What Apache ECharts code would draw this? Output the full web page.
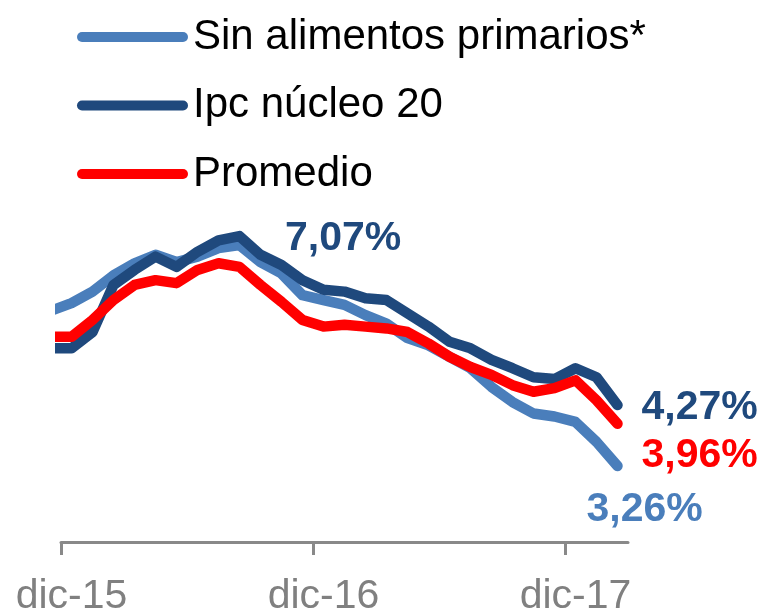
<!DOCTYPE html>
<html>
<head>
<meta charset="utf-8">
<script src="https://cdn.jsdelivr.net/npm/echarts@6/dist/echarts.min.js"></script>
<style>
html, body { margin: 0; padding: 0; background: #fff; }
#main { width: 768px; height: 609px; }
</style>
</head>
<body>
<div id="main"></div>
<script>
// monthly series, first month (nov-15) only shows as the clipped start of the lines
var months = ['nov-15', 'dic-15', 'ene-16', 'feb-16', 'mar-16', 'abr-16', 'may-16', 'jun-16',
    'jul-16', 'ago-16', 'sep-16', 'oct-16', 'nov-16', 'dic-16', 'ene-17', 'feb-17', 'mar-17',
    'abr-17', 'may-17', 'jun-17', 'jul-17', 'ago-17', 'sep-17', 'oct-17', 'nov-17', 'dic-17',
    'ene-18', 'feb-18'];
var tickLabels = ['dic-15', 'dic-16', 'dic-17'];

var sinAlimentos = [5.83, 5.96, 6.15, 6.42, 6.62, 6.76, 6.64, 6.73, 6.87, 6.92, 6.64, 6.45, 6.09, 6.01,
    5.93, 5.76, 5.62, 5.38, 5.26, 5.07, 4.88, 4.57, 4.32, 4.13, 4.08, 3.99, 3.66, 3.26];
var ipcNucleo = [5.21, 5.21, 5.48, 6.26, 6.51, 6.73, 6.56, 6.81, 7.00, 7.07, 6.76, 6.59, 6.34, 6.18,
    6.15, 6.04, 6.01, 5.79, 5.57, 5.32, 5.21, 5.02, 4.88, 4.73, 4.70, 4.88, 4.73, 4.27];
var promedio = [5.40, 5.40, 5.68, 6.01, 6.26, 6.34, 6.29, 6.51, 6.62, 6.56, 6.26, 5.98, 5.68, 5.57,
    5.60, 5.57, 5.54, 5.48, 5.29, 5.07, 4.90, 4.77, 4.60, 4.49, 4.55, 4.68, 4.35, 3.96];

var names = ['Sin alimentos primarios*', 'Ipc núcleo 20', 'Promedio'];
var colors = ['#4A7EBB', '#1F497D', '#FF0000'];

function pct(v) {
    return v.toFixed(2).replace('.', ',') + '%';
}

function pairs(values) {
    return values.map(function (v, i) { return [i, v]; });
}

var labelIdx = tickLabels.map(function (m) { return months.indexOf(m); });
var tickIdx = labelIdx.map(function (i) { return i - 0.5; });

var font = 'Liberation Sans, Arial, sans-serif';

function endLabel(color, dist, off) {
    return {
        show: true,
        formatter: function (p) { return pct(p.value[1]); },
        color: color,
        fontFamily: font,
        fontSize: 41,
        fontWeight: 'bold',
        distance: dist,
        offset: off
    };
}

function lineSeries(idx, values, dist, off) {
    return {
        name: names[idx],
        type: 'line',
        data: pairs(values),
        symbol: 'none',
        color: colors[idx],
        lineStyle: { width: 10.5, color: colors[idx], cap: 'round', join: 'round' },
        endLabel: endLabel(colors[idx], dist, off),
        animation: false
    };
}

var chart = echarts.init(document.getElementById('main'));

var s0 = lineSeries(0, sinAlimentos, 24, [-55, 44]);
var s1 = lineSeries(1, ipcNucleo, 24, [0, 3]);
var s2 = lineSeries(2, promedio, 24, [0, 32]);

s1.markPoint = {
    symbol: 'circle',
    symbolSize: 1,
    itemStyle: { color: 'rgba(0,0,0,0)' },
    data: [{ type: 'max', valueDim: 'y' }],
    label: {
        show: true,
        position: 'right',
        distance: 45,
        offset: [0, 3],
        formatter: function (p) { return pct(p.value); },
        color: colors[1],
        fontFamily: font,
        fontSize: 41,
        fontWeight: 'bold'
    },
    animation: false
};

var option = {
    animation: false,
    backgroundColor: '#fff',
    legend: {
        orient: 'vertical',
        left: 72,
        top: 9,
        itemWidth: 111,
        itemHeight: 10,
        itemGap: 22.5,
        icon: 'path://M5,0L106,0A5,5,0,0,1,106,10L5,10A5,5,0,0,1,5,0Z',
        selectedMode: false,
        data: names,
        textStyle: {
            color: '#000',
            fontFamily: font,
            fontSize: 42,
            lineHeight: 46
        }
    },
    grid: {
        left: 61,
        right: 140,
        top: 180,
        bottom: 67,
        outerBoundsMode: 'none'
    },
    xAxis: {
        type: 'value',
        min: 0.5,
        max: months.length - 0.5,
        splitLine: { show: false },
        axisLine: { show: true, lineStyle: { color: '#898989', width: 3 } },
        axisTick: {
            show: true,
            customValues: tickIdx,
            length: 13,
            lineStyle: { color: '#898989', width: 3 }
        },
        axisLabel: {
            customValues: labelIdx,
            formatter: function (v) { return months[Math.round(v)]; },
            color: '#808080',
            fontFamily: font,
            fontSize: 41,
            margin: 34
        }
    },
    yAxis: {
        type: 'value',
        min: 2,
        max: 8,
        show: false
    },
    series: [s0, s1, s2]
};

chart.setOption(option);
</script>
</body>
</html>
